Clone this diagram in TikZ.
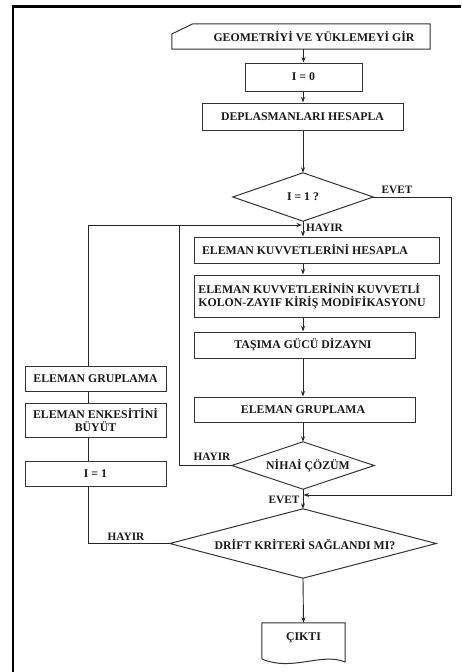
\documentclass[tikz,border=0pt]{standalone}
\usepackage{fontspec}
\setmainfont{Liberation Serif}
\usetikzlibrary{arrows.meta,calc}
\begin{document}
\begin{tikzpicture}[x=1pt,y=-1pt,
  every node/.style={font=\fontsize{11.8}{13.5}\selectfont\bfseries, inner sep=0pt, text=black!90},
  ln/.style={line width=0.9pt, draw=black!85},
  box/.style={draw=black!80, line width=1pt, rectangle},
  arr/.style={ln, -{Stealth[length=5.5pt,width=4pt]}},
  lbl/.style={font=\fontsize{11.3}{12}\selectfont\bfseries}]
\useasboundingbox (0,0) rectangle (461,672);
\draw[line width=2.6pt] (13,672) -- (13,6.5) -- (461,6.5);

% input
\node[minimum width=258pt, minimum height=25pt] (in) at (301,36.5) {};
\draw[box] (in.south west) -- ([yshift=2.5pt]in.west) -- ([xshift=21pt]in.north west) -- (in.north east) -- (in.south east) -- cycle;
\node (intxt) at (314,37) {GEOMETRİYİ VE YÜKLEMEYİ GİR};

\node[box, minimum width=117pt, minimum height=28pt] (i0) at (303.5,77) {I = 0};
\node[box, minimum width=201pt, minimum height=27pt] (dep) at (302.5,116.5) {DEPLASMANLARI HESAPLA};

\node[minimum width=140pt, minimum height=48pt] (d1) at (303,197) {I = 1 ?};
\draw[box] (d1.north) -- (d1.east) -- (d1.south) -- (d1.west) -- cycle;

\node[box, minimum width=245pt, minimum height=26pt] (kuv) at (316.5,250) {};
\node (kuvtxt) at (305,250) {ELEMAN KUVVETLERİNİ HESAPLA};
\node[box, minimum width=245pt, minimum height=42pt] (mod) at (316.5,296) {};
\node[align=left] (modtxt) at (312,296) {ELEMAN KUVVETLERİNİN KUVVETLİ\\KOLON-ZAYIF KİRİŞ MODİFİKASYONU};
\node[box, minimum width=221pt, minimum height=26pt] (tas) at (304.5,345) {};
\node (tastxt) at (303,345) {TAŞIMA GÜCÜ DİZAYNI};
\node[box, minimum width=221pt, minimum height=25pt] (grp) at (304.5,409.5) {};
\node (grptxt) at (303,409.5) {ELEMAN GRUPLAMA};

\node[minimum width=142pt, minimum height=47pt] (d2) at (303,465.5) {};
\draw[box] (d2.north) -- (d2.east) -- (d2.south) -- (d2.west) -- cycle;
\node (d2txt) at (308,465.5) {NİHAİ ÇÖZÜM};

\node[minimum width=266pt, minimum height=69pt] (d3) at (303,543.5) {};
\draw[box] (d3.north) -- (d3.east) -- (d3.south) -- (d3.west) -- cycle;
\node (d3txt) at (305,544) {DRİFT KRİTERİ SAĞLANDI MI?};

\node[minimum width=83pt, minimum height=30pt] (out) at (303.5,638) {ÇIKTI};
\draw[box] (out.north west) -- (out.north east) -- (345,662) .. controls (322,652) and (292,672) .. (262,659) -- cycle;

\node[box, minimum width=141pt, minimum height=25pt] (lgrp) at (95.5,378.5) {ELEMAN GRUPLAMA};
\node[box, minimum width=141pt, minimum height=34pt, align=center] (enk) at (95.5,420) {ELEMAN ENKESİTİNİ\\BÜYÜT};
\node[box, minimum width=141pt, minimum height=25pt] (i1) at (95.5,473.5) {I = 1};

\coordinate (rx) at (451,0);
\coordinate (lx) at (88,0);
\coordinate (nx) at (179,0);
\coordinate (jn) at (302,225);
\coordinate (ev) at (303.5,495);

% main flow
\draw[arr] (i0.north |- in.south) -- (i0.north);
\draw[arr] (d1.south |- i0.south) -- (d1.south |- dep.north);
\draw[arr] (d1.south |- dep.south) -- (d1.north);
\draw[arr] (d1.south) -- (d1.south |- kuv.north);
\draw[arr] (d1.south |- kuv.south) -- (d1.south |- mod.north);
\draw[arr] (d1.south |- mod.south) -- (d1.south |- tas.north);
\draw[arr] (d1.south |- tas.south) -- (d1.south |- grp.north);
\draw[arr] (d1.south |- grp.south) -- (d2.north);
\draw[arr] (d2.south) -- (d3.north);
\draw[arr] (d3.south) -- (out.north);

% EVET loop right
\draw[arr] (d1.east) -- (d1.east -| rx) -- (rx |- ev) -- (ev);

% left loops
\draw[ln] (d3.west) -- (d3.west -| lx) -- (lx |- i1.south);
\draw[ln] (lx |- i1.north) -- (lx |- enk.south);
\draw[ln] (lx |- enk.north) -- (lx |- lgrp.south);
\draw[arr] (lx |- lgrp.north) -- (lx |- jn) -- (jn);
\draw[ln] (d2.west) -- (d2.west -| nx) -- (nx |- jn);

% labels
\node[lbl] (evet1) at (397,190) {EVET};
\node[lbl, anchor=west] (hayir1) at (306,227.5) {HAYIR};
\node[lbl] (hayir2) at (212,457) {HAYIR};
\node[lbl] (evet2) at (284,500) {EVET};
\node[lbl] (hayir3) at (126,537) {HAYIR};
\end{tikzpicture}
\end{document}
